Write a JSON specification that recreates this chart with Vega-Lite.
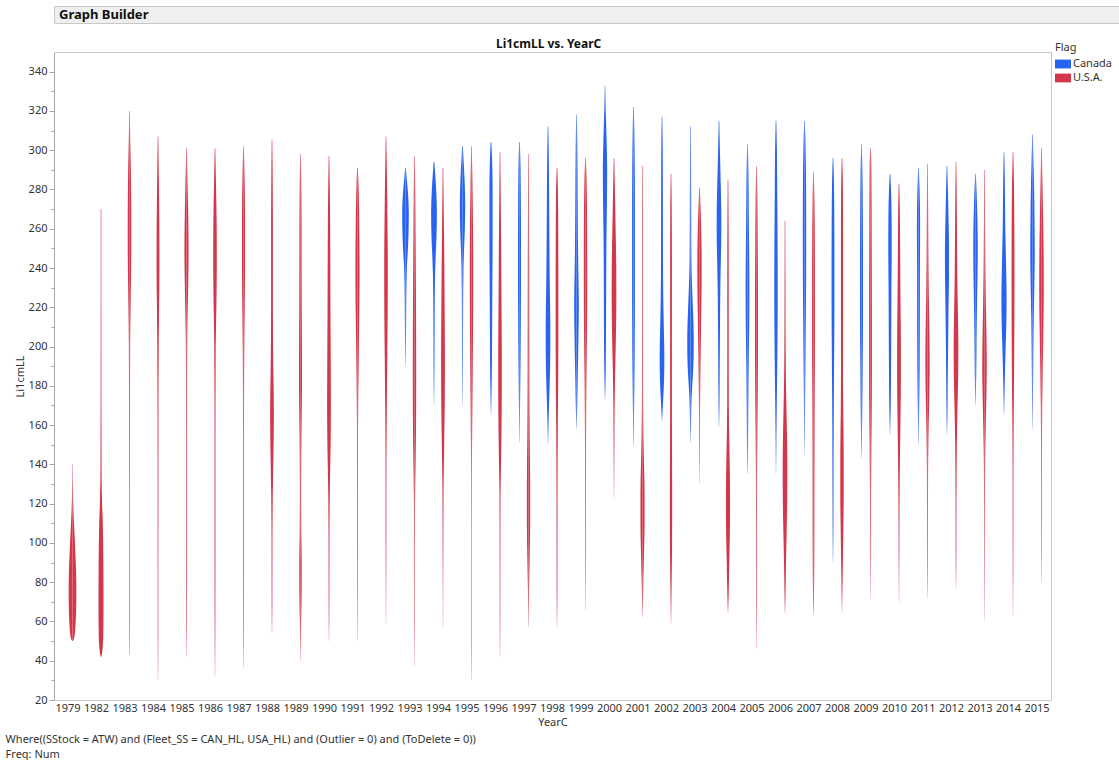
{
"$schema":"https://vega.github.io/schema/vega-lite/v6.json",
"padding":{"left":5,"top":5,"right":0,"bottom":0},
"background":"white",
"config":{
 "font":"Noto Sans",
 "view":{"stroke":null},
 "axis":{"labelFontSize":11,"labelColor":"#333","titleFontSize":11,"titleFontWeight":"normal","titleColor":"#333","domainColor":"#a8a8a8","tickColor":"#a8a8a8","grid":false},
 "legend":{"titleFontSize":11,"titleFontWeight":"normal","titleColor":"#333","labelFontSize":11,"labelColor":"#333","symbolType":"M-1,-0.55H1V0.55H-1Z","symbolSize":256,"symbolStrokeWidth":0,"symbolOpacity":1,"padding":0,"rowPadding":1,"labelOffset":2,"titlePadding":3}
},
"title":{"text":["Where((SStock = ATW) and (Fleet_SS = CAN_HL, USA_HL) and (Outlier = 0) and (ToDelete = 0))","Freq: Num"],"orient":"bottom","anchor":"start","offset":6,"dx":-8.5,"fontSize":11,"fontWeight":"normal","lineHeight":15,"color":"#333"},
"spacing":14,
"align":"none",
"resolve":{"legend":{"color":"independent"}},
"vconcat":[
 {"title":{"text":"Graph Builder","anchor":"start","offset":-16,"fontSize":13,"fontWeight":"bold","color":"#111","dx":5},
  "width":1066,"height":17,"view":{"fill":"#efefef","stroke":"#c8c8c8"},
  "data":{"values":[]},"mark":"text"},
 {"title":{"text":"Li1cmLL vs. YearC","fontSize":12,"fontWeight":"bold","anchor":"middle","offset":-9,"dx":-15,"color":"#111"},
  "data":{"values":[
{"yr":1979,"flag":"U.S.A.","len":140,"d":0.2},{"yr":1979,"flag":"U.S.A.","len":125,"d":0.5},{"yr":1979,"flag":"U.S.A.","len":115,"d":1.2},{"yr":1979,"flag":"U.S.A.","len":105,"d":2.2},{"yr":1979,"flag":"U.S.A.","len":95,"d":3.2},{"yr":1979,"flag":"U.S.A.","len":85,"d":4},{"yr":1979,"flag":"U.S.A.","len":75,"d":4.3},{"yr":1979,"flag":"U.S.A.","len":65,"d":4},{"yr":1979,"flag":"U.S.A.","len":58,"d":3.3},{"yr":1979,"flag":"U.S.A.","len":53,"d":2.4},{"yr":1979,"flag":"U.S.A.","len":51,"d":1.5},{"yr":1979,"flag":"U.S.A.","len":50,"d":0.3},
{"yr":1982,"flag":"U.S.A.","len":270,"d":0.3},{"yr":1982,"flag":"U.S.A.","len":200,"d":0.4},{"yr":1982,"flag":"U.S.A.","len":140,"d":0.6},{"yr":1982,"flag":"U.S.A.","len":120,"d":1.2},{"yr":1982,"flag":"U.S.A.","len":110,"d":2},{"yr":1982,"flag":"U.S.A.","len":90,"d":2.6},{"yr":1982,"flag":"U.S.A.","len":70,"d":2.8},{"yr":1982,"flag":"U.S.A.","len":55,"d":2.6},{"yr":1982,"flag":"U.S.A.","len":46,"d":1.8},{"yr":1982,"flag":"U.S.A.","len":42,"d":0.4},
{"yr":1983,"flag":"U.S.A.","len":320,"d":0.3},{"yr":1983,"flag":"U.S.A.","len":305,"d":0.8},{"yr":1983,"flag":"U.S.A.","len":290,"d":1.5},{"yr":1983,"flag":"U.S.A.","len":260,"d":2},{"yr":1983,"flag":"U.S.A.","len":240,"d":1.8},{"yr":1983,"flag":"U.S.A.","len":220,"d":1.2},{"yr":1983,"flag":"U.S.A.","len":200,"d":0.7},{"yr":1983,"flag":"U.S.A.","len":150,"d":0.5},{"yr":1983,"flag":"U.S.A.","len":100,"d":0.4},{"yr":1983,"flag":"U.S.A.","len":60,"d":0.4},{"yr":1983,"flag":"U.S.A.","len":43,"d":0.2},
{"yr":1984,"flag":"U.S.A.","len":307,"d":0.3},{"yr":1984,"flag":"U.S.A.","len":290,"d":0.8},{"yr":1984,"flag":"U.S.A.","len":260,"d":1.5},{"yr":1984,"flag":"U.S.A.","len":240,"d":1.6},{"yr":1984,"flag":"U.S.A.","len":220,"d":1.2},{"yr":1984,"flag":"U.S.A.","len":200,"d":0.8},{"yr":1984,"flag":"U.S.A.","len":160,"d":0.5},{"yr":1984,"flag":"U.S.A.","len":100,"d":0.4},{"yr":1984,"flag":"U.S.A.","len":50,"d":0.3},{"yr":1984,"flag":"U.S.A.","len":30,"d":0.1},
{"yr":1985,"flag":"U.S.A.","len":301,"d":0.3},{"yr":1985,"flag":"U.S.A.","len":290,"d":0.8},{"yr":1985,"flag":"U.S.A.","len":270,"d":1.8},{"yr":1985,"flag":"U.S.A.","len":250,"d":2.3},{"yr":1985,"flag":"U.S.A.","len":235,"d":2},{"yr":1985,"flag":"U.S.A.","len":215,"d":1.2},{"yr":1985,"flag":"U.S.A.","len":200,"d":0.7},{"yr":1985,"flag":"U.S.A.","len":150,"d":0.5},{"yr":1985,"flag":"U.S.A.","len":100,"d":0.5},{"yr":1985,"flag":"U.S.A.","len":60,"d":0.4},{"yr":1985,"flag":"U.S.A.","len":42,"d":0.1},
{"yr":1986,"flag":"U.S.A.","len":301,"d":0.3},{"yr":1986,"flag":"U.S.A.","len":285,"d":1},{"yr":1986,"flag":"U.S.A.","len":260,"d":1.9},{"yr":1986,"flag":"U.S.A.","len":240,"d":2},{"yr":1986,"flag":"U.S.A.","len":220,"d":1.5},{"yr":1986,"flag":"U.S.A.","len":200,"d":0.8},{"yr":1986,"flag":"U.S.A.","len":150,"d":0.5},{"yr":1986,"flag":"U.S.A.","len":100,"d":0.5},{"yr":1986,"flag":"U.S.A.","len":60,"d":0.4},{"yr":1986,"flag":"U.S.A.","len":32,"d":0.1},
{"yr":1987,"flag":"U.S.A.","len":302,"d":0.3},{"yr":1987,"flag":"U.S.A.","len":290,"d":1},{"yr":1987,"flag":"U.S.A.","len":265,"d":1.7},{"yr":1987,"flag":"U.S.A.","len":240,"d":1.7},{"yr":1987,"flag":"U.S.A.","len":215,"d":1.2},{"yr":1987,"flag":"U.S.A.","len":195,"d":0.8},{"yr":1987,"flag":"U.S.A.","len":150,"d":0.5},{"yr":1987,"flag":"U.S.A.","len":100,"d":0.5},{"yr":1987,"flag":"U.S.A.","len":60,"d":0.4},{"yr":1987,"flag":"U.S.A.","len":36,"d":0.1},
{"yr":1988,"flag":"U.S.A.","len":305,"d":0.3},{"yr":1988,"flag":"U.S.A.","len":290,"d":0.7},{"yr":1988,"flag":"U.S.A.","len":260,"d":1},{"yr":1988,"flag":"U.S.A.","len":230,"d":1},{"yr":1988,"flag":"U.S.A.","len":205,"d":1.1},{"yr":1988,"flag":"U.S.A.","len":185,"d":1.6},{"yr":1988,"flag":"U.S.A.","len":165,"d":2.1},{"yr":1988,"flag":"U.S.A.","len":145,"d":1.6},{"yr":1988,"flag":"U.S.A.","len":125,"d":0.9},{"yr":1988,"flag":"U.S.A.","len":100,"d":0.5},{"yr":1988,"flag":"U.S.A.","len":70,"d":0.4},{"yr":1988,"flag":"U.S.A.","len":54,"d":0.1},
{"yr":1989,"flag":"U.S.A.","len":298,"d":0.3},{"yr":1989,"flag":"U.S.A.","len":285,"d":0.8},{"yr":1989,"flag":"U.S.A.","len":260,"d":1.2},{"yr":1989,"flag":"U.S.A.","len":230,"d":1.3},{"yr":1989,"flag":"U.S.A.","len":200,"d":1.6},{"yr":1989,"flag":"U.S.A.","len":180,"d":1.7},{"yr":1989,"flag":"U.S.A.","len":160,"d":1.2},{"yr":1989,"flag":"U.S.A.","len":130,"d":0.7},{"yr":1989,"flag":"U.S.A.","len":105,"d":0.9},{"yr":1989,"flag":"U.S.A.","len":90,"d":1.4},{"yr":1989,"flag":"U.S.A.","len":75,"d":1.3},{"yr":1989,"flag":"U.S.A.","len":60,"d":0.7},{"yr":1989,"flag":"U.S.A.","len":40,"d":0.1},
{"yr":1990,"flag":"U.S.A.","len":297,"d":0.3},{"yr":1990,"flag":"U.S.A.","len":280,"d":0.9},{"yr":1990,"flag":"U.S.A.","len":250,"d":1.4},{"yr":1990,"flag":"U.S.A.","len":220,"d":1.6},{"yr":1990,"flag":"U.S.A.","len":195,"d":1.9},{"yr":1990,"flag":"U.S.A.","len":170,"d":2.1},{"yr":1990,"flag":"U.S.A.","len":150,"d":1.8},{"yr":1990,"flag":"U.S.A.","len":130,"d":1},{"yr":1990,"flag":"U.S.A.","len":100,"d":0.5},{"yr":1990,"flag":"U.S.A.","len":70,"d":0.4},{"yr":1990,"flag":"U.S.A.","len":50,"d":0.1},
{"yr":1991,"flag":"U.S.A.","len":291,"d":0.4},{"yr":1991,"flag":"U.S.A.","len":280,"d":1.3},{"yr":1991,"flag":"U.S.A.","len":260,"d":2},{"yr":1991,"flag":"U.S.A.","len":235,"d":2.3},{"yr":1991,"flag":"U.S.A.","len":210,"d":1.8},{"yr":1991,"flag":"U.S.A.","len":185,"d":1.1},{"yr":1991,"flag":"U.S.A.","len":160,"d":0.6},{"yr":1991,"flag":"U.S.A.","len":120,"d":0.5},{"yr":1991,"flag":"U.S.A.","len":80,"d":0.4},{"yr":1991,"flag":"U.S.A.","len":50,"d":0.1},
{"yr":1992,"flag":"U.S.A.","len":307,"d":0.3},{"yr":1992,"flag":"U.S.A.","len":290,"d":0.9},{"yr":1992,"flag":"U.S.A.","len":265,"d":1.6},{"yr":1992,"flag":"U.S.A.","len":240,"d":2},{"yr":1992,"flag":"U.S.A.","len":220,"d":1.9},{"yr":1992,"flag":"U.S.A.","len":195,"d":1.4},{"yr":1992,"flag":"U.S.A.","len":170,"d":0.9},{"yr":1992,"flag":"U.S.A.","len":140,"d":0.5},{"yr":1992,"flag":"U.S.A.","len":100,"d":0.4},{"yr":1992,"flag":"U.S.A.","len":59,"d":0.1},
{"yr":1993,"flag":"U.S.A.","len":297,"d":0.3},{"yr":1993,"flag":"U.S.A.","len":280,"d":0.8},{"yr":1993,"flag":"U.S.A.","len":250,"d":1.3},{"yr":1993,"flag":"U.S.A.","len":220,"d":1.7},{"yr":1993,"flag":"U.S.A.","len":190,"d":1.9},{"yr":1993,"flag":"U.S.A.","len":165,"d":1.8},{"yr":1993,"flag":"U.S.A.","len":140,"d":1.2},{"yr":1993,"flag":"U.S.A.","len":120,"d":0.6},{"yr":1993,"flag":"U.S.A.","len":90,"d":0.4},{"yr":1993,"flag":"U.S.A.","len":60,"d":0.3},{"yr":1993,"flag":"U.S.A.","len":37,"d":0.1},
{"yr":1994,"flag":"U.S.A.","len":291,"d":0.3},{"yr":1994,"flag":"U.S.A.","len":270,"d":0.8},{"yr":1994,"flag":"U.S.A.","len":245,"d":1.4},{"yr":1994,"flag":"U.S.A.","len":220,"d":1.8},{"yr":1994,"flag":"U.S.A.","len":195,"d":2.1},{"yr":1994,"flag":"U.S.A.","len":170,"d":1.9},{"yr":1994,"flag":"U.S.A.","len":150,"d":1.3},{"yr":1994,"flag":"U.S.A.","len":130,"d":0.7},{"yr":1994,"flag":"U.S.A.","len":100,"d":0.4},{"yr":1994,"flag":"U.S.A.","len":57,"d":0.1},
{"yr":1995,"flag":"U.S.A.","len":302,"d":0.3},{"yr":1995,"flag":"U.S.A.","len":285,"d":1},{"yr":1995,"flag":"U.S.A.","len":260,"d":1.7},{"yr":1995,"flag":"U.S.A.","len":235,"d":1.9},{"yr":1995,"flag":"U.S.A.","len":210,"d":1.7},{"yr":1995,"flag":"U.S.A.","len":185,"d":1.3},{"yr":1995,"flag":"U.S.A.","len":160,"d":0.8},{"yr":1995,"flag":"U.S.A.","len":130,"d":0.4},{"yr":1995,"flag":"U.S.A.","len":90,"d":0.3},{"yr":1995,"flag":"U.S.A.","len":50,"d":0.3},{"yr":1995,"flag":"U.S.A.","len":30,"d":0.1},
{"yr":1996,"flag":"U.S.A.","len":299,"d":0.3},{"yr":1996,"flag":"U.S.A.","len":280,"d":0.7},{"yr":1996,"flag":"U.S.A.","len":255,"d":1.2},{"yr":1996,"flag":"U.S.A.","len":225,"d":1.6},{"yr":1996,"flag":"U.S.A.","len":195,"d":2},{"yr":1996,"flag":"U.S.A.","len":170,"d":1.9},{"yr":1996,"flag":"U.S.A.","len":145,"d":1.3},{"yr":1996,"flag":"U.S.A.","len":125,"d":0.6},{"yr":1996,"flag":"U.S.A.","len":90,"d":0.4},{"yr":1996,"flag":"U.S.A.","len":60,"d":0.3},{"yr":1996,"flag":"U.S.A.","len":42,"d":0.1},
{"yr":1997,"flag":"U.S.A.","len":298,"d":0.3},{"yr":1997,"flag":"U.S.A.","len":270,"d":0.6},{"yr":1997,"flag":"U.S.A.","len":240,"d":0.8},{"yr":1997,"flag":"U.S.A.","len":210,"d":0.9},{"yr":1997,"flag":"U.S.A.","len":180,"d":1},{"yr":1997,"flag":"U.S.A.","len":155,"d":1.3},{"yr":1997,"flag":"U.S.A.","len":130,"d":1.8},{"yr":1997,"flag":"U.S.A.","len":110,"d":1.8},{"yr":1997,"flag":"U.S.A.","len":90,"d":1.2},{"yr":1997,"flag":"U.S.A.","len":75,"d":0.6},{"yr":1997,"flag":"U.S.A.","len":57,"d":0.1},
{"yr":1998,"flag":"U.S.A.","len":291,"d":0.3},{"yr":1998,"flag":"U.S.A.","len":280,"d":1},{"yr":1998,"flag":"U.S.A.","len":255,"d":1.4},{"yr":1998,"flag":"U.S.A.","len":230,"d":1.5},{"yr":1998,"flag":"U.S.A.","len":205,"d":1.5},{"yr":1998,"flag":"U.S.A.","len":180,"d":1.3},{"yr":1998,"flag":"U.S.A.","len":160,"d":0.9},{"yr":1998,"flag":"U.S.A.","len":130,"d":0.6},{"yr":1998,"flag":"U.S.A.","len":100,"d":0.5},{"yr":1998,"flag":"U.S.A.","len":75,"d":0.4},{"yr":1998,"flag":"U.S.A.","len":57,"d":0.1},
{"yr":1999,"flag":"U.S.A.","len":296,"d":0.3},{"yr":1999,"flag":"U.S.A.","len":285,"d":1.2},{"yr":1999,"flag":"U.S.A.","len":260,"d":1.8},{"yr":1999,"flag":"U.S.A.","len":235,"d":1.9},{"yr":1999,"flag":"U.S.A.","len":210,"d":1.7},{"yr":1999,"flag":"U.S.A.","len":190,"d":1.2},{"yr":1999,"flag":"U.S.A.","len":165,"d":0.7},{"yr":1999,"flag":"U.S.A.","len":130,"d":0.5},{"yr":1999,"flag":"U.S.A.","len":95,"d":0.4},{"yr":1999,"flag":"U.S.A.","len":66,"d":0.1},
{"yr":2000,"flag":"U.S.A.","len":296,"d":0.3},{"yr":2000,"flag":"U.S.A.","len":280,"d":1},{"yr":2000,"flag":"U.S.A.","len":260,"d":1.8},{"yr":2000,"flag":"U.S.A.","len":240,"d":2.5},{"yr":2000,"flag":"U.S.A.","len":225,"d":2.6},{"yr":2000,"flag":"U.S.A.","len":210,"d":2.3},{"yr":2000,"flag":"U.S.A.","len":190,"d":1.4},{"yr":2000,"flag":"U.S.A.","len":170,"d":0.7},{"yr":2000,"flag":"U.S.A.","len":145,"d":0.4},{"yr":2000,"flag":"U.S.A.","len":123,"d":0.1},
{"yr":2001,"flag":"U.S.A.","len":292,"d":0.3},{"yr":2001,"flag":"U.S.A.","len":260,"d":0.5},{"yr":2001,"flag":"U.S.A.","len":220,"d":0.5},{"yr":2001,"flag":"U.S.A.","len":180,"d":0.6},{"yr":2001,"flag":"U.S.A.","len":155,"d":1},{"yr":2001,"flag":"U.S.A.","len":140,"d":1.7},{"yr":2001,"flag":"U.S.A.","len":125,"d":2.3},{"yr":2001,"flag":"U.S.A.","len":110,"d":2.3},{"yr":2001,"flag":"U.S.A.","len":95,"d":1.7},{"yr":2001,"flag":"U.S.A.","len":80,"d":0.9},{"yr":2001,"flag":"U.S.A.","len":62,"d":0.1},
{"yr":2002,"flag":"U.S.A.","len":288,"d":0.3},{"yr":2002,"flag":"U.S.A.","len":270,"d":0.8},{"yr":2002,"flag":"U.S.A.","len":240,"d":1},{"yr":2002,"flag":"U.S.A.","len":210,"d":1},{"yr":2002,"flag":"U.S.A.","len":180,"d":1},{"yr":2002,"flag":"U.S.A.","len":150,"d":1.1},{"yr":2002,"flag":"U.S.A.","len":125,"d":1.3},{"yr":2002,"flag":"U.S.A.","len":100,"d":1.2},{"yr":2002,"flag":"U.S.A.","len":80,"d":0.7},{"yr":2002,"flag":"U.S.A.","len":59,"d":0.1},
{"yr":2003,"flag":"U.S.A.","len":281,"d":0.3},{"yr":2003,"flag":"U.S.A.","len":270,"d":1.2},{"yr":2003,"flag":"U.S.A.","len":255,"d":2.1},{"yr":2003,"flag":"U.S.A.","len":240,"d":2.4},{"yr":2003,"flag":"U.S.A.","len":225,"d":2.2},{"yr":2003,"flag":"U.S.A.","len":210,"d":1.7},{"yr":2003,"flag":"U.S.A.","len":190,"d":1.1},{"yr":2003,"flag":"U.S.A.","len":170,"d":0.6},{"yr":2003,"flag":"U.S.A.","len":150,"d":0.4},{"yr":2003,"flag":"U.S.A.","len":130,"d":0.1},
{"yr":2004,"flag":"U.S.A.","len":285,"d":0.3},{"yr":2004,"flag":"U.S.A.","len":260,"d":0.7},{"yr":2004,"flag":"U.S.A.","len":230,"d":0.8},{"yr":2004,"flag":"U.S.A.","len":200,"d":0.8},{"yr":2004,"flag":"U.S.A.","len":170,"d":0.9},{"yr":2004,"flag":"U.S.A.","len":150,"d":1.5},{"yr":2004,"flag":"U.S.A.","len":135,"d":2.1},{"yr":2004,"flag":"U.S.A.","len":120,"d":2.3},{"yr":2004,"flag":"U.S.A.","len":105,"d":2.1},{"yr":2004,"flag":"U.S.A.","len":90,"d":1.4},{"yr":2004,"flag":"U.S.A.","len":75,"d":0.8},{"yr":2004,"flag":"U.S.A.","len":64,"d":0.1},
{"yr":2005,"flag":"U.S.A.","len":292,"d":0.3},{"yr":2005,"flag":"U.S.A.","len":275,"d":1},{"yr":2005,"flag":"U.S.A.","len":250,"d":1.4},{"yr":2005,"flag":"U.S.A.","len":225,"d":1.7},{"yr":2005,"flag":"U.S.A.","len":200,"d":1.7},{"yr":2005,"flag":"U.S.A.","len":175,"d":1.4},{"yr":2005,"flag":"U.S.A.","len":155,"d":1},{"yr":2005,"flag":"U.S.A.","len":130,"d":0.6},{"yr":2005,"flag":"U.S.A.","len":100,"d":0.5},{"yr":2005,"flag":"U.S.A.","len":70,"d":0.4},{"yr":2005,"flag":"U.S.A.","len":46,"d":0.1},
{"yr":2006,"flag":"U.S.A.","len":264,"d":0.3},{"yr":2006,"flag":"U.S.A.","len":230,"d":0.5},{"yr":2006,"flag":"U.S.A.","len":200,"d":0.7},{"yr":2006,"flag":"U.S.A.","len":180,"d":1.1},{"yr":2006,"flag":"U.S.A.","len":160,"d":2},{"yr":2006,"flag":"U.S.A.","len":140,"d":2.6},{"yr":2006,"flag":"U.S.A.","len":125,"d":2.5},{"yr":2006,"flag":"U.S.A.","len":105,"d":1.8},{"yr":2006,"flag":"U.S.A.","len":90,"d":1.1},{"yr":2006,"flag":"U.S.A.","len":75,"d":0.6},{"yr":2006,"flag":"U.S.A.","len":64,"d":0.1},
{"yr":2007,"flag":"U.S.A.","len":289,"d":0.3},{"yr":2007,"flag":"U.S.A.","len":275,"d":1},{"yr":2007,"flag":"U.S.A.","len":250,"d":1.5},{"yr":2007,"flag":"U.S.A.","len":225,"d":1.6},{"yr":2007,"flag":"U.S.A.","len":200,"d":1.6},{"yr":2007,"flag":"U.S.A.","len":175,"d":1.3},{"yr":2007,"flag":"U.S.A.","len":150,"d":1.1},{"yr":2007,"flag":"U.S.A.","len":120,"d":1},{"yr":2007,"flag":"U.S.A.","len":95,"d":0.9},{"yr":2007,"flag":"U.S.A.","len":75,"d":0.6},{"yr":2007,"flag":"U.S.A.","len":63,"d":0.1},
{"yr":2008,"flag":"U.S.A.","len":296,"d":0.3},{"yr":2008,"flag":"U.S.A.","len":280,"d":1},{"yr":2008,"flag":"U.S.A.","len":250,"d":1.2},{"yr":2008,"flag":"U.S.A.","len":220,"d":1.2},{"yr":2008,"flag":"U.S.A.","len":190,"d":1.1},{"yr":2008,"flag":"U.S.A.","len":165,"d":1.4},{"yr":2008,"flag":"U.S.A.","len":145,"d":1.9},{"yr":2008,"flag":"U.S.A.","len":125,"d":1.9},{"yr":2008,"flag":"U.S.A.","len":105,"d":1.4},{"yr":2008,"flag":"U.S.A.","len":85,"d":0.8},{"yr":2008,"flag":"U.S.A.","len":65,"d":0.1},
{"yr":2009,"flag":"U.S.A.","len":301,"d":0.3},{"yr":2009,"flag":"U.S.A.","len":290,"d":1},{"yr":2009,"flag":"U.S.A.","len":260,"d":1.3},{"yr":2009,"flag":"U.S.A.","len":230,"d":1.5},{"yr":2009,"flag":"U.S.A.","len":200,"d":1.6},{"yr":2009,"flag":"U.S.A.","len":175,"d":1.5},{"yr":2009,"flag":"U.S.A.","len":150,"d":1},{"yr":2009,"flag":"U.S.A.","len":125,"d":0.6},{"yr":2009,"flag":"U.S.A.","len":95,"d":0.4},{"yr":2009,"flag":"U.S.A.","len":71,"d":0.1},
{"yr":2010,"flag":"U.S.A.","len":283,"d":0.3},{"yr":2010,"flag":"U.S.A.","len":270,"d":0.9},{"yr":2010,"flag":"U.S.A.","len":245,"d":1.3},{"yr":2010,"flag":"U.S.A.","len":220,"d":1.7},{"yr":2010,"flag":"U.S.A.","len":200,"d":2.1},{"yr":2010,"flag":"U.S.A.","len":185,"d":2.1},{"yr":2010,"flag":"U.S.A.","len":165,"d":1.7},{"yr":2010,"flag":"U.S.A.","len":145,"d":1.1},{"yr":2010,"flag":"U.S.A.","len":120,"d":0.6},{"yr":2010,"flag":"U.S.A.","len":95,"d":0.4},{"yr":2010,"flag":"U.S.A.","len":70,"d":0.1},
{"yr":2011,"flag":"U.S.A.","len":293,"d":0.3},{"yr":2011,"flag":"U.S.A.","len":270,"d":0.7},{"yr":2011,"flag":"U.S.A.","len":245,"d":1},{"yr":2011,"flag":"U.S.A.","len":225,"d":1.5},{"yr":2011,"flag":"U.S.A.","len":205,"d":2.2},{"yr":2011,"flag":"U.S.A.","len":190,"d":2.4},{"yr":2011,"flag":"U.S.A.","len":175,"d":2},{"yr":2011,"flag":"U.S.A.","len":160,"d":1.3},{"yr":2011,"flag":"U.S.A.","len":140,"d":0.7},{"yr":2011,"flag":"U.S.A.","len":110,"d":0.5},{"yr":2011,"flag":"U.S.A.","len":90,"d":0.4},{"yr":2011,"flag":"U.S.A.","len":72,"d":0.1},
{"yr":2012,"flag":"U.S.A.","len":294,"d":0.3},{"yr":2012,"flag":"U.S.A.","len":275,"d":0.8},{"yr":2012,"flag":"U.S.A.","len":250,"d":1.2},{"yr":2012,"flag":"U.S.A.","len":230,"d":1.6},{"yr":2012,"flag":"U.S.A.","len":215,"d":2.2},{"yr":2012,"flag":"U.S.A.","len":200,"d":2.6},{"yr":2012,"flag":"U.S.A.","len":185,"d":2.4},{"yr":2012,"flag":"U.S.A.","len":170,"d":1.7},{"yr":2012,"flag":"U.S.A.","len":150,"d":0.9},{"yr":2012,"flag":"U.S.A.","len":120,"d":0.5},{"yr":2012,"flag":"U.S.A.","len":95,"d":0.4},{"yr":2012,"flag":"U.S.A.","len":77,"d":0.1},
{"yr":2013,"flag":"U.S.A.","len":290,"d":0.3},{"yr":2013,"flag":"U.S.A.","len":265,"d":0.6},{"yr":2013,"flag":"U.S.A.","len":240,"d":1},{"yr":2013,"flag":"U.S.A.","len":220,"d":1.6},{"yr":2013,"flag":"U.S.A.","len":205,"d":2.2},{"yr":2013,"flag":"U.S.A.","len":190,"d":2.5},{"yr":2013,"flag":"U.S.A.","len":175,"d":2.1},{"yr":2013,"flag":"U.S.A.","len":160,"d":1.4},{"yr":2013,"flag":"U.S.A.","len":140,"d":0.7},{"yr":2013,"flag":"U.S.A.","len":110,"d":0.4},{"yr":2013,"flag":"U.S.A.","len":85,"d":0.3},{"yr":2013,"flag":"U.S.A.","len":61,"d":0.1},
{"yr":2014,"flag":"U.S.A.","len":299,"d":0.3},{"yr":2014,"flag":"U.S.A.","len":285,"d":1},{"yr":2014,"flag":"U.S.A.","len":260,"d":1.5},{"yr":2014,"flag":"U.S.A.","len":235,"d":1.6},{"yr":2014,"flag":"U.S.A.","len":210,"d":1.5},{"yr":2014,"flag":"U.S.A.","len":185,"d":1.2},{"yr":2014,"flag":"U.S.A.","len":165,"d":0.8},{"yr":2014,"flag":"U.S.A.","len":140,"d":0.5},{"yr":2014,"flag":"U.S.A.","len":110,"d":0.4},{"yr":2014,"flag":"U.S.A.","len":85,"d":0.3},{"yr":2014,"flag":"U.S.A.","len":63,"d":0.1},
{"yr":2015,"flag":"U.S.A.","len":301,"d":0.3},{"yr":2015,"flag":"U.S.A.","len":285,"d":1},{"yr":2015,"flag":"U.S.A.","len":265,"d":1.8},{"yr":2015,"flag":"U.S.A.","len":245,"d":2.4},{"yr":2015,"flag":"U.S.A.","len":228,"d":2.5},{"yr":2015,"flag":"U.S.A.","len":210,"d":2.1},{"yr":2015,"flag":"U.S.A.","len":190,"d":1.4},{"yr":2015,"flag":"U.S.A.","len":170,"d":0.8},{"yr":2015,"flag":"U.S.A.","len":145,"d":0.5},{"yr":2015,"flag":"U.S.A.","len":115,"d":0.4},{"yr":2015,"flag":"U.S.A.","len":95,"d":0.3},{"yr":2015,"flag":"U.S.A.","len":80,"d":0.1},
{"yr":1993,"flag":"Canada","len":291,"d":0.4},{"yr":1993,"flag":"Canada","len":285,"d":1.5},{"yr":1993,"flag":"Canada","len":278,"d":2.8},{"yr":1993,"flag":"Canada","len":268,"d":3.7},{"yr":1993,"flag":"Canada","len":258,"d":3.4},{"yr":1993,"flag":"Canada","len":248,"d":2.5},{"yr":1993,"flag":"Canada","len":240,"d":1.5},{"yr":1993,"flag":"Canada","len":225,"d":0.9},{"yr":1993,"flag":"Canada","len":205,"d":0.6},{"yr":1993,"flag":"Canada","len":190,"d":0.1},
{"yr":1994,"flag":"Canada","len":294,"d":0.4},{"yr":1994,"flag":"Canada","len":288,"d":1.3},{"yr":1994,"flag":"Canada","len":280,"d":2.4},{"yr":1994,"flag":"Canada","len":268,"d":3.2},{"yr":1994,"flag":"Canada","len":256,"d":2.8},{"yr":1994,"flag":"Canada","len":245,"d":1.8},{"yr":1994,"flag":"Canada","len":235,"d":1.1},{"yr":1994,"flag":"Canada","len":215,"d":0.7},{"yr":1994,"flag":"Canada","len":190,"d":0.5},{"yr":1994,"flag":"Canada","len":170,"d":0.1},
{"yr":1995,"flag":"Canada","len":302,"d":0.4},{"yr":1995,"flag":"Canada","len":295,"d":1.2},{"yr":1995,"flag":"Canada","len":285,"d":2.3},{"yr":1995,"flag":"Canada","len":272,"d":3},{"yr":1995,"flag":"Canada","len":260,"d":2.6},{"yr":1995,"flag":"Canada","len":250,"d":1.8},{"yr":1995,"flag":"Canada","len":240,"d":1.1},{"yr":1995,"flag":"Canada","len":220,"d":0.7},{"yr":1995,"flag":"Canada","len":195,"d":0.5},{"yr":1995,"flag":"Canada","len":170,"d":0.1},
{"yr":1996,"flag":"Canada","len":304,"d":0.4},{"yr":1996,"flag":"Canada","len":295,"d":1.2},{"yr":1996,"flag":"Canada","len":280,"d":1.8},{"yr":1996,"flag":"Canada","len":255,"d":1.8},{"yr":1996,"flag":"Canada","len":230,"d":1.5},{"yr":1996,"flag":"Canada","len":205,"d":1.2},{"yr":1996,"flag":"Canada","len":185,"d":0.9},{"yr":1996,"flag":"Canada","len":165,"d":0.1},
{"yr":1997,"flag":"Canada","len":304,"d":0.4},{"yr":1997,"flag":"Canada","len":290,"d":1.2},{"yr":1997,"flag":"Canada","len":265,"d":1.6},{"yr":1997,"flag":"Canada","len":240,"d":1.7},{"yr":1997,"flag":"Canada","len":215,"d":1.5},{"yr":1997,"flag":"Canada","len":190,"d":1.1},{"yr":1997,"flag":"Canada","len":170,"d":0.6},{"yr":1997,"flag":"Canada","len":151,"d":0.1},
{"yr":1998,"flag":"Canada","len":312,"d":0.3},{"yr":1998,"flag":"Canada","len":300,"d":0.8},{"yr":1998,"flag":"Canada","len":280,"d":1.2},{"yr":1998,"flag":"Canada","len":255,"d":1.5},{"yr":1998,"flag":"Canada","len":230,"d":2},{"yr":1998,"flag":"Canada","len":210,"d":2.6},{"yr":1998,"flag":"Canada","len":195,"d":2.5},{"yr":1998,"flag":"Canada","len":180,"d":1.8},{"yr":1998,"flag":"Canada","len":165,"d":0.8},{"yr":1998,"flag":"Canada","len":150,"d":0.1},
{"yr":1999,"flag":"Canada","len":318,"d":0.3},{"yr":1999,"flag":"Canada","len":305,"d":0.8},{"yr":1999,"flag":"Canada","len":285,"d":1.2},{"yr":1999,"flag":"Canada","len":260,"d":1.5},{"yr":1999,"flag":"Canada","len":240,"d":2},{"yr":1999,"flag":"Canada","len":222,"d":2.6},{"yr":1999,"flag":"Canada","len":205,"d":2.2},{"yr":1999,"flag":"Canada","len":185,"d":1.4},{"yr":1999,"flag":"Canada","len":170,"d":0.8},{"yr":1999,"flag":"Canada","len":158,"d":0.1},
{"yr":2000,"flag":"Canada","len":333,"d":0.2},{"yr":2000,"flag":"Canada","len":320,"d":0.8},{"yr":2000,"flag":"Canada","len":305,"d":1.8},{"yr":2000,"flag":"Canada","len":290,"d":2.4},{"yr":2000,"flag":"Canada","len":275,"d":2.2},{"yr":2000,"flag":"Canada","len":255,"d":1.6},{"yr":2000,"flag":"Canada","len":230,"d":1.3},{"yr":2000,"flag":"Canada","len":205,"d":1.1},{"yr":2000,"flag":"Canada","len":185,"d":0.7},{"yr":2000,"flag":"Canada","len":173,"d":0.1},
{"yr":2001,"flag":"Canada","len":322,"d":0.3},{"yr":2001,"flag":"Canada","len":310,"d":0.9},{"yr":2001,"flag":"Canada","len":290,"d":1.4},{"yr":2001,"flag":"Canada","len":265,"d":1.6},{"yr":2001,"flag":"Canada","len":240,"d":1.6},{"yr":2001,"flag":"Canada","len":215,"d":1.5},{"yr":2001,"flag":"Canada","len":190,"d":1.2},{"yr":2001,"flag":"Canada","len":170,"d":0.7},{"yr":2001,"flag":"Canada","len":149,"d":0.1},
{"yr":2002,"flag":"Canada","len":317,"d":0.3},{"yr":2002,"flag":"Canada","len":300,"d":0.8},{"yr":2002,"flag":"Canada","len":270,"d":1},{"yr":2002,"flag":"Canada","len":245,"d":1.1},{"yr":2002,"flag":"Canada","len":225,"d":1.4},{"yr":2002,"flag":"Canada","len":210,"d":2},{"yr":2002,"flag":"Canada","len":195,"d":2.6},{"yr":2002,"flag":"Canada","len":183,"d":2.3},{"yr":2002,"flag":"Canada","len":172,"d":1.2},{"yr":2002,"flag":"Canada","len":162,"d":0.1},
{"yr":2003,"flag":"Canada","len":312,"d":0.3},{"yr":2003,"flag":"Canada","len":290,"d":0.6},{"yr":2003,"flag":"Canada","len":265,"d":0.8},{"yr":2003,"flag":"Canada","len":245,"d":1},{"yr":2003,"flag":"Canada","len":230,"d":1.8},{"yr":2003,"flag":"Canada","len":218,"d":2.8},{"yr":2003,"flag":"Canada","len":205,"d":3.6},{"yr":2003,"flag":"Canada","len":195,"d":3.5},{"yr":2003,"flag":"Canada","len":185,"d":2.6},{"yr":2003,"flag":"Canada","len":175,"d":1.3},{"yr":2003,"flag":"Canada","len":160,"d":0.5},{"yr":2003,"flag":"Canada","len":151,"d":0.1},
{"yr":2004,"flag":"Canada","len":315,"d":0.3},{"yr":2004,"flag":"Canada","len":300,"d":1},{"yr":2004,"flag":"Canada","len":285,"d":1.8},{"yr":2004,"flag":"Canada","len":270,"d":2.5},{"yr":2004,"flag":"Canada","len":258,"d":2.6},{"yr":2004,"flag":"Canada","len":245,"d":2.1},{"yr":2004,"flag":"Canada","len":230,"d":1.5},{"yr":2004,"flag":"Canada","len":210,"d":1.1},{"yr":2004,"flag":"Canada","len":190,"d":0.8},{"yr":2004,"flag":"Canada","len":170,"d":0.5},{"yr":2004,"flag":"Canada","len":159,"d":0.1},
{"yr":2005,"flag":"Canada","len":303,"d":0.3},{"yr":2005,"flag":"Canada","len":290,"d":1},{"yr":2005,"flag":"Canada","len":270,"d":1.4},{"yr":2005,"flag":"Canada","len":250,"d":1.8},{"yr":2005,"flag":"Canada","len":230,"d":2.1},{"yr":2005,"flag":"Canada","len":210,"d":1.9},{"yr":2005,"flag":"Canada","len":190,"d":1.3},{"yr":2005,"flag":"Canada","len":170,"d":0.9},{"yr":2005,"flag":"Canada","len":150,"d":0.6},{"yr":2005,"flag":"Canada","len":135,"d":0.1},
{"yr":2006,"flag":"Canada","len":315,"d":0.3},{"yr":2006,"flag":"Canada","len":300,"d":1},{"yr":2006,"flag":"Canada","len":275,"d":1.4},{"yr":2006,"flag":"Canada","len":250,"d":1.8},{"yr":2006,"flag":"Canada","len":225,"d":1.9},{"yr":2006,"flag":"Canada","len":200,"d":1.6},{"yr":2006,"flag":"Canada","len":180,"d":1.1},{"yr":2006,"flag":"Canada","len":160,"d":0.6},{"yr":2006,"flag":"Canada","len":135,"d":0.1},
{"yr":2007,"flag":"Canada","len":315,"d":0.3},{"yr":2007,"flag":"Canada","len":305,"d":1},{"yr":2007,"flag":"Canada","len":285,"d":1.7},{"yr":2007,"flag":"Canada","len":260,"d":1.9},{"yr":2007,"flag":"Canada","len":235,"d":1.8},{"yr":2007,"flag":"Canada","len":210,"d":1.4},{"yr":2007,"flag":"Canada","len":190,"d":1},{"yr":2007,"flag":"Canada","len":165,"d":0.5},{"yr":2007,"flag":"Canada","len":145,"d":0.1},
{"yr":2008,"flag":"Canada","len":296,"d":0.3},{"yr":2008,"flag":"Canada","len":285,"d":1},{"yr":2008,"flag":"Canada","len":260,"d":1.5},{"yr":2008,"flag":"Canada","len":235,"d":1.6},{"yr":2008,"flag":"Canada","len":210,"d":1.5},{"yr":2008,"flag":"Canada","len":185,"d":1.1},{"yr":2008,"flag":"Canada","len":160,"d":0.8},{"yr":2008,"flag":"Canada","len":130,"d":0.6},{"yr":2008,"flag":"Canada","len":105,"d":0.4},{"yr":2008,"flag":"Canada","len":90,"d":0.1},
{"yr":2009,"flag":"Canada","len":303,"d":0.3},{"yr":2009,"flag":"Canada","len":290,"d":1},{"yr":2009,"flag":"Canada","len":265,"d":1.5},{"yr":2009,"flag":"Canada","len":240,"d":1.7},{"yr":2009,"flag":"Canada","len":215,"d":1.7},{"yr":2009,"flag":"Canada","len":190,"d":1.3},{"yr":2009,"flag":"Canada","len":165,"d":0.8},{"yr":2009,"flag":"Canada","len":143,"d":0.1},
{"yr":2010,"flag":"Canada","len":288,"d":0.3},{"yr":2010,"flag":"Canada","len":280,"d":1.1},{"yr":2010,"flag":"Canada","len":265,"d":1.8},{"yr":2010,"flag":"Canada","len":250,"d":1.9},{"yr":2010,"flag":"Canada","len":230,"d":1.6},{"yr":2010,"flag":"Canada","len":210,"d":1.4},{"yr":2010,"flag":"Canada","len":190,"d":1.2},{"yr":2010,"flag":"Canada","len":170,"d":0.8},{"yr":2010,"flag":"Canada","len":155,"d":0.1},
{"yr":2011,"flag":"Canada","len":291,"d":0.3},{"yr":2011,"flag":"Canada","len":280,"d":1.2},{"yr":2011,"flag":"Canada","len":262,"d":1.8},{"yr":2011,"flag":"Canada","len":240,"d":1.6},{"yr":2011,"flag":"Canada","len":215,"d":1.5},{"yr":2011,"flag":"Canada","len":190,"d":1.3},{"yr":2011,"flag":"Canada","len":170,"d":0.8},{"yr":2011,"flag":"Canada","len":150,"d":0.1},
{"yr":2012,"flag":"Canada","len":292,"d":0.3},{"yr":2012,"flag":"Canada","len":280,"d":1},{"yr":2012,"flag":"Canada","len":265,"d":1.7},{"yr":2012,"flag":"Canada","len":250,"d":2.3},{"yr":2012,"flag":"Canada","len":235,"d":2.2},{"yr":2012,"flag":"Canada","len":220,"d":1.7},{"yr":2012,"flag":"Canada","len":200,"d":1.2},{"yr":2012,"flag":"Canada","len":180,"d":0.8},{"yr":2012,"flag":"Canada","len":165,"d":0.5},{"yr":2012,"flag":"Canada","len":155,"d":0.1},
{"yr":2013,"flag":"Canada","len":288,"d":0.3},{"yr":2013,"flag":"Canada","len":280,"d":1.1},{"yr":2013,"flag":"Canada","len":265,"d":2.1},{"yr":2013,"flag":"Canada","len":252,"d":2.5},{"yr":2013,"flag":"Canada","len":238,"d":2.3},{"yr":2013,"flag":"Canada","len":222,"d":1.7},{"yr":2013,"flag":"Canada","len":205,"d":1.2},{"yr":2013,"flag":"Canada","len":185,"d":0.8},{"yr":2013,"flag":"Canada","len":170,"d":0.1},
{"yr":2014,"flag":"Canada","len":299,"d":0.3},{"yr":2014,"flag":"Canada","len":285,"d":0.9},{"yr":2014,"flag":"Canada","len":265,"d":1.3},{"yr":2014,"flag":"Canada","len":250,"d":1.9},{"yr":2014,"flag":"Canada","len":237,"d":2.5},{"yr":2014,"flag":"Canada","len":225,"d":2.9},{"yr":2014,"flag":"Canada","len":212,"d":2.6},{"yr":2014,"flag":"Canada","len":198,"d":1.7},{"yr":2014,"flag":"Canada","len":183,"d":0.9},{"yr":2014,"flag":"Canada","len":165,"d":0.1},
{"yr":2015,"flag":"Canada","len":308,"d":0.3},{"yr":2015,"flag":"Canada","len":295,"d":1},{"yr":2015,"flag":"Canada","len":280,"d":1.8},{"yr":2015,"flag":"Canada","len":262,"d":2.3},{"yr":2015,"flag":"Canada","len":248,"d":2.5},{"yr":2015,"flag":"Canada","len":232,"d":2.1},{"yr":2015,"flag":"Canada","len":215,"d":1.4},{"yr":2015,"flag":"Canada","len":195,"d":0.9},{"yr":2015,"flag":"Canada","len":175,"d":0.5},{"yr":2015,"flag":"Canada","len":158,"d":0.1}
  ]},
  "facet":{"column":{"field":"yr","type":"ordinal","header":{"title":"YearC","labelOrient":"bottom","titleOrient":"bottom","labelFontSize":11,"labelColor":"#333","labelPadding":3,"titleFontSize":11,"titleFontWeight":"normal","titleColor":"#333","titlePadding":-7}}},
  "spacing":0.5,
  "spec":{
   "width":28,"height":648,
   "resolve":{"scale":{"x":"independent"},"axis":{"y":"independent"}},
   "layer":[
    {"transform":[{"filter":"datum.flag === 'Canada'"}],
     "mark":{"type":"area","orient":"horizontal","interpolate":"monotone"},
     "encoding":{
      "y":{"field":"len","type":"quantitative","scale":{"domain":[20,350],"nice":false,"zero":false},"axis":{"orient":"left","values":[20,40,60,80,100,120,140,160,180,200,220,240,260,280,300,320,340],"title":"Li1cmLL","titlePadding":3,"tickSize":5,"labelPadding":2}},
      "x":{"field":"d","type":"quantitative","scale":{"domain":[-10.556,20.556],"nice":false,"zero":false},"axis":null},
      "x2":{"datum":0},
      "color":{"field":"flag","type":"nominal","scale":{"domain":["Canada","U.S.A."],"range":["#2864F0","#D2374B"]},"legend":{"title":"Flag","orient":"none","legendX":1001,"legendY":-10}}
     }},
    {"transform":[{"filter":"datum.flag === 'Canada'"}],
     "mark":{"type":"area","orient":"horizontal","interpolate":"monotone"},
     "encoding":{
      "y":{"field":"len","type":"quantitative","axis":{"orient":"left","values":[20,350],"grid":true,"gridColor":"#c8c8c8","labels":false,"ticks":false,"domain":false,"title":null}},
      "x":{"field":"d","type":"quantitative","scale":{"domain":[-20.556,10.556],"reverse":true,"nice":false,"zero":false},"axis":null},
      "x2":{"datum":0},
      "color":{"field":"flag","type":"nominal"}
     }},
    {"transform":[{"filter":"datum.flag === 'U.S.A.'"}],
     "mark":{"type":"area","orient":"horizontal","interpolate":"monotone"},
     "encoding":{
      "y":{"field":"len","type":"quantitative","axis":{"orient":"right","labels":false,"ticks":false,"title":null,"domainColor":"#c8c8c8"}},
      "x":{"field":"d","type":"quantitative","scale":{"domain":[-20.556,10.556],"nice":false,"zero":false},"axis":null},
      "x2":{"datum":0},
      "color":{"field":"flag","type":"nominal"}
     }},
    {"transform":[{"filter":"datum.flag === 'U.S.A.'"}],
     "mark":{"type":"area","orient":"horizontal","interpolate":"monotone"},
     "encoding":{
      "y":{"field":"len","type":"quantitative","axis":{"orient":"left","values":[30,50,70,90,110,130,150,170,190,210,230,250,270,290,310,330],"labels":false,"title":null,"domain":false,"tickSize":3}},
      "x":{"field":"d","type":"quantitative","scale":{"domain":[-10.556,20.556],"reverse":true,"nice":false,"zero":false},"axis":null},
      "x2":{"datum":0},
      "color":{"field":"flag","type":"nominal"}
     }}
   ]
  }
 }
]
}
